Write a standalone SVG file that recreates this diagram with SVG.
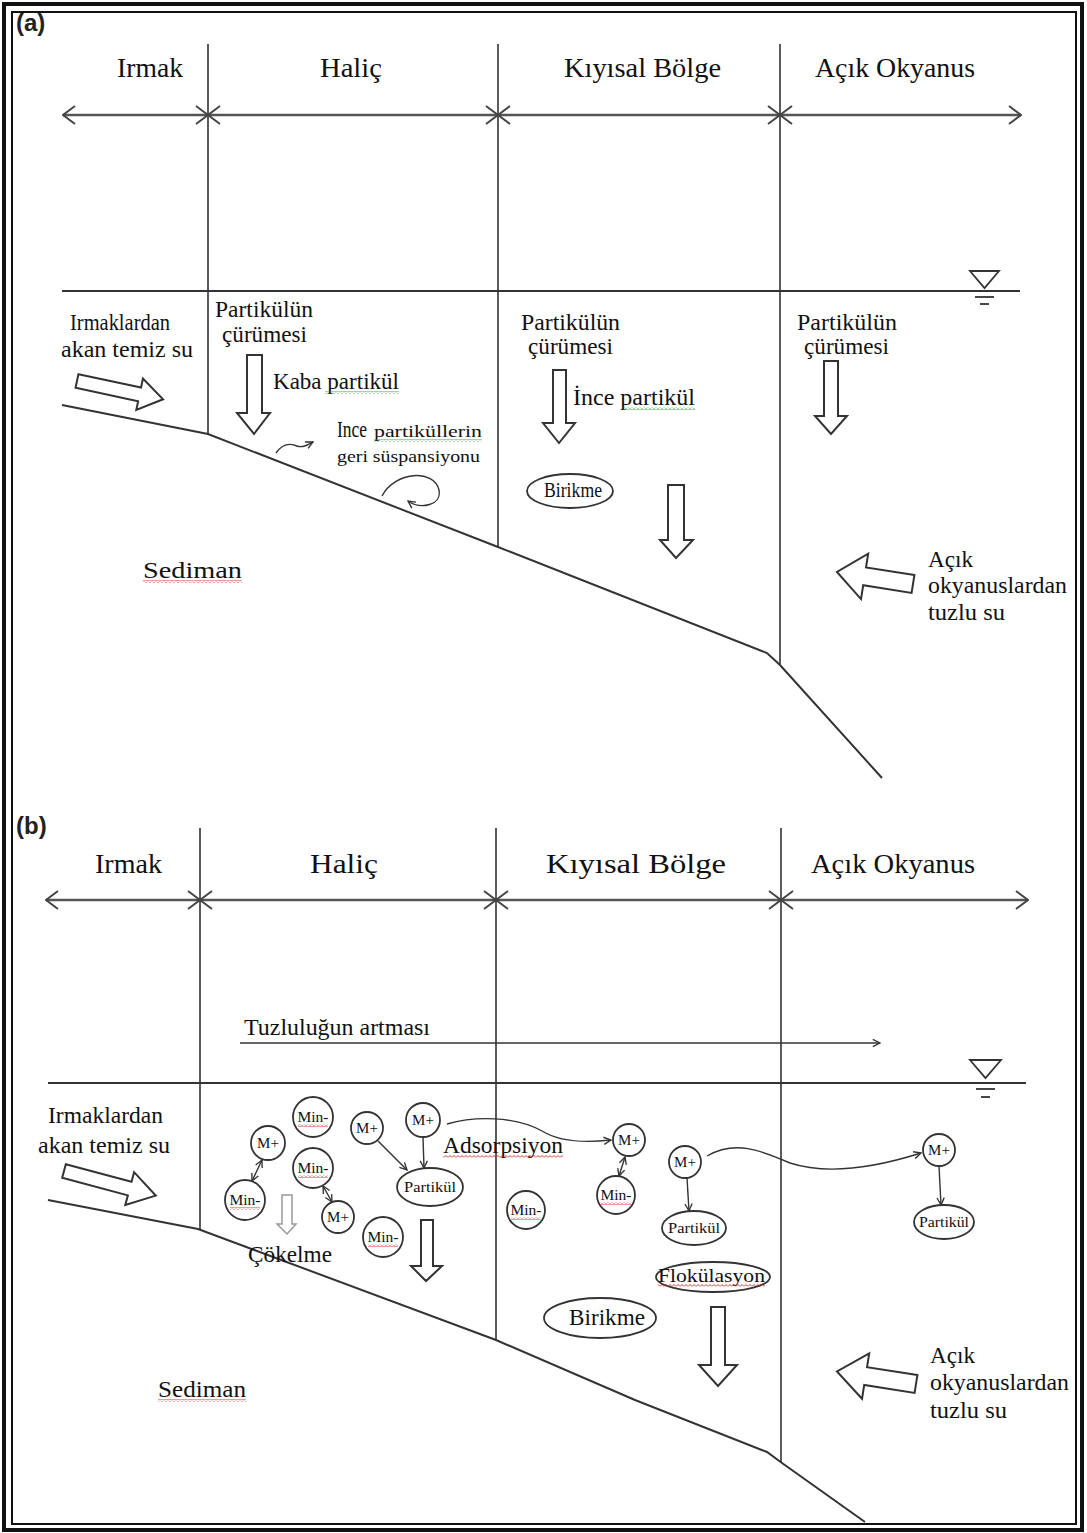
<svg xmlns="http://www.w3.org/2000/svg" width="1087" height="1533" viewBox="0 0 1087 1533">
<defs>
<style>
.t{font-family:"Liberation Serif","Times New Roman",serif;fill:#111;}
.lbl{font-size:27px;}
.lblb{font-size:28px;}
.body{font-size:23px;}
.sm{font-size:17px;}
.mp{font-size:15px;text-anchor:middle;}
.mn{font-size:14px;text-anchor:middle;}
.hd{font-family:"Liberation Sans",Arial,sans-serif;font-weight:bold;font-size:24px;fill:#222;}
.grid{stroke:#333;stroke-width:1.6;fill:none;}
.scale{stroke:#555;stroke-width:2.5;fill:none;marker-start:url(#chev);marker-end:url(#chev);}
.water{stroke:#333;stroke-width:2;fill:none;}
.bed{stroke:#333;stroke-width:2;fill:none;}
.blk{fill:#fff;stroke:#333;stroke-width:2;}
.circ{fill:#fff;stroke:#333;stroke-width:1.8;}
.ar{stroke:#333;stroke-width:1.4;fill:none;marker-end:url(#ah);}
.ar2{stroke:#333;stroke-width:1.4;fill:none;marker-end:url(#ah);marker-start:url(#ah);}
.rw{fill:url(#rw);}
.gw{fill:url(#gw);}
</style>
<marker id="chev" viewBox="0 0 14 20" refX="13" refY="10" markerWidth="14" markerHeight="20" markerUnits="userSpaceOnUse" orient="auto-start-reverse"><path d="M1,1 L13,10 L1,19" fill="none" stroke="#444" stroke-width="2"/></marker>
<marker id="ah" viewBox="0 0 10 10" refX="9" refY="5" markerWidth="9" markerHeight="9" markerUnits="userSpaceOnUse" orient="auto-start-reverse"><path d="M1,1 L9,5 L1,9" fill="none" stroke="#333" stroke-width="1.5"/></marker>
<pattern id="rw" width="4" height="3" patternUnits="userSpaceOnUse"><path d="M0,2.5 L2,0.5 L4,2.5" fill="none" stroke="#d02020" stroke-width="0.9"/></pattern>
<pattern id="gw" width="4" height="3" patternUnits="userSpaceOnUse"><path d="M0,2.5 L2,0.5 L4,2.5" fill="none" stroke="#30a030" stroke-width="0.9"/></pattern>
</defs>
<rect width="1087" height="1533" fill="#fff"/>
<rect x="4" y="4" width="1078" height="1526" fill="none" stroke="#111" stroke-width="4"/>
<rect x="12" y="12" width="1064" height="1512" fill="none" stroke="#111" stroke-width="2"/>

<!-- PANEL A -->
<g id="panel-a">
<text class="hd" x="16" y="31">(a)</text>
<g id="a-grid">
<line class="grid" x1="208" y1="44" x2="208" y2="434"/>
<line class="grid" x1="498" y1="44" x2="498" y2="547"/>
<line class="grid" x1="780" y1="44" x2="780" y2="664"/>
</g>
<g id="a-zones">
<text class="t lbl" x="117" y="77" textLength="66" lengthAdjust="spacingAndGlyphs">Irmak</text>
<text class="t lbl" x="320" y="77" textLength="62" lengthAdjust="spacingAndGlyphs">Haliç</text>
<text class="t lbl" x="564" y="77" textLength="157" lengthAdjust="spacingAndGlyphs">Kıyısal Bölge</text>
<text class="t lbl" x="815" y="77" textLength="160" lengthAdjust="spacingAndGlyphs">Açık Okyanus</text>
</g>
<g id="a-scale">
<line class="scale" x1="63" y1="115" x2="208" y2="115"/>
<line class="scale" x1="208" y1="115" x2="498" y2="115"/>
<line class="scale" x1="498" y1="115" x2="780" y2="115"/>
<line class="scale" x1="780" y1="115" x2="1021" y2="115"/>
</g>
<g id="a-water">
<line class="water" x1="62" y1="291" x2="1020" y2="291"/>
<path d="M970,271 H999 L984.5,288 Z" fill="#fff" stroke="#333" stroke-width="1.8"/>
<line x1="975" y1="297" x2="994" y2="297" stroke="#333" stroke-width="1.8"/>
<line x1="980" y1="304" x2="989" y2="304" stroke="#333" stroke-width="1.8"/>
</g>
<polyline id="a-bed" class="bed" points="62,405 208,434 498,547 767,653 780,665 882,778"/>

<g id="a-river-in">
<text class="t body" x="70" y="330" textLength="100" lengthAdjust="spacingAndGlyphs">Irmaklardan</text>
<text class="t body" x="61" y="357" textLength="132" lengthAdjust="spacingAndGlyphs">akan temiz su</text>
<g transform="translate(77,381) rotate(12)"><path class="blk" d="M0,-7 H64 V-16 L88,0 L64,16 V7 H0 Z"/></g>
</g>
<g id="a-estuary-decay">
<text class="t body" x="215" y="317" textLength="98" lengthAdjust="spacingAndGlyphs">Partikülün</text>
<text class="t body" x="222" y="342" textLength="85" lengthAdjust="spacingAndGlyphs">çürümesi</text>
<path class="blk" d="M247,355 H262 V413 H270 L254,434 L237,413 H247 Z"/>
<text class="t body" x="273" y="389" textLength="126" lengthAdjust="spacingAndGlyphs">Kaba partikül</text>
<rect class="gw" x="325" y="391" width="74" height="3"/>
</g>
<g id="a-resuspension">
<text class="t body" x="337" y="437" textLength="30" lengthAdjust="spacingAndGlyphs">Ince</text>
<text class="t sm" x="374" y="437" textLength="108" lengthAdjust="spacingAndGlyphs">partiküllerin</text>
<rect class="gw" x="374" y="439" width="108" height="3"/>
<text class="t sm" x="337" y="462" textLength="143" lengthAdjust="spacingAndGlyphs">geri süspansiyonu</text>
</g>
<g id="a-coastal-decay">
<text class="t body" x="521" y="330" textLength="99" lengthAdjust="spacingAndGlyphs">Partikülün</text>
<text class="t body" x="528" y="354" textLength="85" lengthAdjust="spacingAndGlyphs">çürümesi</text>
<path class="blk" d="M553,370 H566 V423 H575 L559,443 L543,423 H553 Z"/>
<text class="t body" x="573" y="405" textLength="122" lengthAdjust="spacingAndGlyphs">İnce partikül</text>
<rect class="gw" x="623" y="407" width="72" height="3"/>
</g>
<g id="a-birikme">
<ellipse class="circ" cx="570" cy="491" rx="43" ry="17"/>
<text class="t" x="544" y="497" font-size="21" textLength="58" lengthAdjust="spacingAndGlyphs">Birikme</text>
<path class="blk" d="M668,485 H684 V540 H693 L676,558 L660,540 H668 Z"/>
</g>
<g id="a-ocean-decay">
<text class="t body" x="797" y="330" textLength="100" lengthAdjust="spacingAndGlyphs">Partikülün</text>
<text class="t body" x="804" y="354" textLength="85" lengthAdjust="spacingAndGlyphs">çürümesi</text>
<path class="blk" d="M824,361 H838 V416 H847 L831,434 L815,416 H824 Z"/>
</g>
<g id="a-sediment">
<text class="t body" x="143" y="578" textLength="99" lengthAdjust="spacingAndGlyphs">Sediman</text>
<rect class="rw" x="143" y="580" width="99" height="3"/>
</g>
<g id="a-sea-in">
<g transform="translate(913,584) rotate(9)"><path class="blk" d="M0,-9 H-49 V-23 L-77,0 L-49,23 V9 H0 Z"/></g>
<text class="t body" x="928" y="567" textLength="45" lengthAdjust="spacingAndGlyphs">Açık</text>
<text class="t body" x="928" y="593" textLength="139" lengthAdjust="spacingAndGlyphs">okyanuslardan</text>
<text class="t body" x="928" y="620" textLength="77" lengthAdjust="spacingAndGlyphs">tuzlu su</text>
</g>
</g>

<!-- PANEL B -->
<g id="panel-b">
<text class="hd" x="16" y="834">(b)</text>
<g id="b-grid">
<line class="grid" x1="200" y1="828" x2="200" y2="1229"/>
<line class="grid" x1="496" y1="828" x2="496" y2="1341"/>
<line class="grid" x1="781" y1="828" x2="781" y2="1463"/>
</g>
<g id="b-zones">
<text class="t lblb" x="95" y="873" textLength="67" lengthAdjust="spacingAndGlyphs">Irmak</text>
<text class="t lblb" x="310" y="873" textLength="68" lengthAdjust="spacingAndGlyphs">Haliç</text>
<text class="t lblb" x="546" y="873" textLength="180" lengthAdjust="spacingAndGlyphs">Kıyısal Bölge</text>
<text class="t lblb" x="811" y="873" textLength="164" lengthAdjust="spacingAndGlyphs">Açık Okyanus</text>
</g>
<g id="b-scale">
<line class="scale" x1="46" y1="900" x2="200" y2="900"/>
<line class="scale" x1="200" y1="900" x2="496" y2="900"/>
<line class="scale" x1="496" y1="900" x2="781" y2="900"/>
<line class="scale" x1="781" y1="900" x2="1028" y2="900"/>
</g>
<g id="b-salinity">
<text class="t body" x="244" y="1035" textLength="186" lengthAdjust="spacingAndGlyphs">Tuzluluğun artması</text>
</g>
<g id="b-water">
<line class="water" x1="48" y1="1083" x2="1026" y2="1083"/>
<path d="M970,1060 H1001 L985.5,1078 Z" fill="#fff" stroke="#333" stroke-width="1.8"/>
<line x1="976" y1="1089" x2="995" y2="1089" stroke="#333" stroke-width="1.8"/>
<line x1="981" y1="1097" x2="990" y2="1097" stroke="#333" stroke-width="1.8"/>
</g>
<polyline id="b-bed" class="bed" points="48,1200 198,1229 496,1340 635,1400 767,1452 782,1463 865,1522"/>

<g id="b-river-in">
<text class="t body" x="48" y="1123" textLength="115" lengthAdjust="spacingAndGlyphs">Irmaklardan</text>
<text class="t body" x="38" y="1153" textLength="132" lengthAdjust="spacingAndGlyphs">akan temiz su</text>
<g transform="translate(64,1171) rotate(15)"><path class="blk" d="M0,-7 H68 V-17 L95,0 L68,17 V7 H0 Z"/></g>
</g>

<g id="ion-minus-1"><circle class="circ" cx="313" cy="1117" r="20"/><text class="t mn" x="313" y="1122" textLength="31" lengthAdjust="spacingAndGlyphs">Min-</text><rect class="rw" x="298" y="1124" width="30" height="3"/></g>
<g id="ion-plus-1"><circle class="circ" cx="268" cy="1143" r="17"/><text class="t mp" x="268" y="1148">M+</text></g>
<g id="ion-minus-2"><circle class="circ" cx="245" cy="1200" r="20"/><text class="t mn" x="245" y="1205" textLength="31" lengthAdjust="spacingAndGlyphs">Min-</text><rect class="rw" x="230" y="1207" width="30" height="3"/></g>
<g id="ion-minus-3"><circle class="circ" cx="313" cy="1168" r="20"/><text class="t mn" x="313" y="1173" textLength="31" lengthAdjust="spacingAndGlyphs">Min-</text><rect class="rw" x="298" y="1175" width="30" height="3"/></g>
<g id="ion-plus-2"><circle class="circ" cx="338" cy="1217" r="16"/><text class="t mp" x="338" y="1222">M+</text></g>
<g id="ion-plus-3"><circle class="circ" cx="367" cy="1128" r="16"/><text class="t mp" x="367" y="1133">M+</text></g>
<g id="ion-plus-4"><circle class="circ" cx="423" cy="1120" r="17"/><text class="t mp" x="423" y="1125">M+</text></g>
<g id="particle-1"><ellipse class="circ" cx="430" cy="1187" rx="33" ry="19"/><text class="t mp" x="430" y="1192" textLength="52" lengthAdjust="spacingAndGlyphs">Partikül</text></g>
<g id="ion-minus-4"><circle class="circ" cx="383" cy="1237" r="20"/><text class="t mn" x="383" y="1242" textLength="31" lengthAdjust="spacingAndGlyphs">Min-</text><rect class="rw" x="368" y="1244" width="30" height="3"/></g>
<g id="b-halic-settle"><path class="blk" d="M421,1220 H433 V1266 H442 L426,1281 L411,1266 H421 Z"/></g>
<g id="b-cokelme">
<path d="M282,1195 H292 V1224 H296 L287,1234 L277,1224 H282 Z" fill="#fff" stroke="#999" stroke-width="1.5"/>
<text class="t body" x="248" y="1262" textLength="84" lengthAdjust="spacingAndGlyphs">Çökelme</text>
</g>
<g id="b-adsorpsiyon">
<text class="t body" x="443" y="1153" textLength="120" lengthAdjust="spacingAndGlyphs">Adsorpsiyon</text>
<rect class="rw" x="443" y="1155" width="120" height="3"/>
</g>
<g id="ion-plus-5"><circle class="circ" cx="629" cy="1140" r="16"/><text class="t mp" x="629" y="1145">M+</text></g>
<g id="ion-minus-5"><circle class="circ" cx="616" cy="1195" r="19"/><text class="t mn" x="616" y="1200" textLength="31" lengthAdjust="spacingAndGlyphs">Min-</text><rect class="rw" x="601" y="1202" width="30" height="3"/></g>
<g id="ion-minus-6"><circle class="circ" cx="526" cy="1210" r="19"/><text class="t mn" x="526" y="1215" textLength="31" lengthAdjust="spacingAndGlyphs">Min-</text><rect class="rw" x="511" y="1217" width="30" height="3"/></g>
<g id="ion-plus-6"><circle class="circ" cx="685" cy="1162" r="16"/><text class="t mp" x="685" y="1167">M+</text></g>
<g id="particle-2"><ellipse class="circ" cx="694" cy="1228" rx="32" ry="17"/><text class="t mp" x="694" y="1233" textLength="52" lengthAdjust="spacingAndGlyphs">Partikül</text></g>
<g id="b-flok">
<ellipse class="circ" cx="713" cy="1277" rx="57" ry="15"/>
<text class="t" x="658" y="1282" font-size="19" textLength="107" lengthAdjust="spacingAndGlyphs">Flokülasyon</text>
<rect class="rw" x="658" y="1284" width="107" height="3"/>
</g>
<g id="b-birikme">
<ellipse class="circ" cx="600" cy="1318" rx="56" ry="20"/>
<text class="t body" x="569" y="1325" textLength="76" lengthAdjust="spacingAndGlyphs">Birikme</text>
</g>
<g id="b-coastal-settle"><path class="blk" d="M711,1307 H725 V1365 H737 L718,1386 L699,1365 H711 Z"/></g>
<g id="ion-plus-7"><circle class="circ" cx="939" cy="1150" r="16"/><text class="t mp" x="939" y="1155">M+</text></g>
<g id="particle-3"><ellipse class="circ" cx="944" cy="1222" rx="30" ry="17"/><text class="t mp" x="944" y="1227" textLength="50" lengthAdjust="spacingAndGlyphs">Partikül</text></g>
<g id="b-sediment">
<text class="t body" x="158" y="1397" textLength="88" lengthAdjust="spacingAndGlyphs">Sediman</text>
<rect class="rw" x="158" y="1399" width="88" height="3"/>
</g>
<g id="b-sea-in">
<g transform="translate(916,1384) rotate(9)"><path class="blk" d="M0,-9 H-51 V-23 L-80,0 L-51,23 V9 H0 Z"/></g>
<text class="t body" x="930" y="1363" textLength="45" lengthAdjust="spacingAndGlyphs">Açık</text>
<text class="t body" x="930" y="1390" textLength="139" lengthAdjust="spacingAndGlyphs">okyanuslardan</text>
<text class="t body" x="930" y="1418" textLength="77" lengthAdjust="spacingAndGlyphs">tuzlu su</text>
</g>
</g>

<!-- CONNECTORS -->
<g id="connectors">
<path class="ar" d="M276,453 C283,443 290,443 297,446 C303,448 307,445 313,442"/>
<path class="ar" d="M382,496 C394,472 434,468 439,490 C442,505 421,510 408,501"/>
<line class="ar" x1="240" y1="1043" x2="880" y2="1043"/>
<line class="ar2" x1="262" y1="1160" x2="252" y2="1181"/>
<line class="ar2" x1="323" y1="1186" x2="332" y2="1202"/>
<line class="ar" x1="378" y1="1141" x2="407" y2="1170"/>
<line class="ar" x1="423" y1="1137" x2="424" y2="1168"/>
<line class="ar2" x1="625" y1="1157" x2="619" y2="1176"/>
<line class="ar" x1="687" y1="1178" x2="689" y2="1211"/>
<line class="ar" x1="939" y1="1166" x2="941" y2="1205"/>
<path class="ar" d="M447,1124 C475,1116 515,1116 542,1131 C560,1142 585,1143 611,1140"/>
<path class="ar" d="M707,1156 C735,1140 760,1150 790,1163 C830,1176 880,1166 921,1153"/>
</g>
</svg>
